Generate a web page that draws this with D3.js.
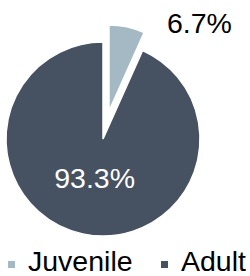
<!DOCTYPE html>
<html>
<head>
<meta charset="utf-8">
<script src="https://cdn.jsdelivr.net/npm/d3@7"></script>
<style>
  body { margin: 0; background: #fff; }
  text { font-family: "Liberation Sans", Arial, sans-serif; }
</style>
</head>
<body>
<script>
var categories = ["Juvenile", "Adult"]
var values = [6.7, 93.3]
var labels = ["6.7%", "93.3%"]
var colors = ["#a5b9c5", "#465162"]

var width = 250, height = 276
var cx = 103, cy = 139, radius = 97

var svg = d3.select("body").append("svg")
    .attr("width", width)
    .attr("height", height)

var pie = d3.pie().sort(null).value(function(d){ return d })
var slices = pie(values)

var arcBig = d3.arc().innerRadius(0).outerRadius(radius)
var arcSmall = d3.arc().innerRadius(0).outerRadius(86)
var labelArc = d3.arc().innerRadius(0).outerRadius(80)

var pieGroup = svg.append("g").attr("transform", "translate(" + cx + "," + cy + ")")

// juvenile slice is pulled out of the pie
var explode = 28.7
pieGroup.selectAll("path").data(slices).enter().append("path")
    .attr("d", function(d, i){ return i == 0 ? arcSmall(d) : arcBig(d) })
    .attr("transform", function(d, i){
      if (i != 0) return null
      var mid = (d.startAngle + d.endAngle) / 2
      return "translate(" + (Math.sin(mid) * explode) + "," + (-Math.cos(mid) * explode) + ")"
    })
    .attr("fill", function(d, i){ return colors[i] })
    .attr("stroke", "#fff")
    .attr("stroke-width", 1.5)

// big slice label inside
pieGroup.append("text")
    .attr("x", labelArc.centroid(slices[1])[0])
    .attr("y", labelArc.centroid(slices[1])[1])
    .attr("dy", "0.36em")
    .attr("text-anchor", "middle")
    .attr("font-size", "28.5px")
    .attr("fill", "#fff")
    .text(labels[1])

// small slice label outside
svg.append("text")
    .attr("x", 167)
    .attr("y", 33)
    .attr("font-size", "28.5px")
    .attr("fill", "#000")
    .text(labels[0])

// legend
var legendX = [8, 161]
var legend = svg.selectAll(".legend").data(categories).enter().append("g")
    .attr("class", "legend")
    .attr("transform", function(d, i){ return "translate(" + legendX[i] + ",0)" })

legend.append("rect")
    .attr("x", 0)
    .attr("y", 261)
    .attr("width", 7)
    .attr("height", 7)
    .attr("fill", function(d, i){ return colors[i] })

legend.append("text")
    .attr("x", 20)
    .attr("y", 271)
    .attr("font-size", "28.5px")
    .attr("fill", "#000")
    .text(function(d){ return d })
</script>
</body>
</html>
